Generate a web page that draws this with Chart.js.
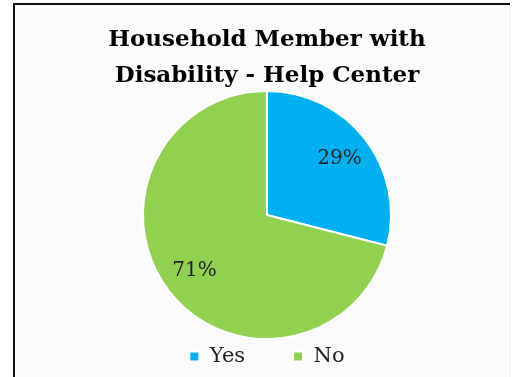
<!DOCTYPE html>
<html>
<head>
<meta charset="utf-8">
<script src="https://cdn.jsdelivr.net/npm/chart.js@4/dist/chart.umd.min.js"></script>
<style>
  html, body { margin: 0; padding: 0; background: #ffffff; }
  body { width: 512px; height: 377px; position: relative; overflow: hidden; }
  #frame {
    position: absolute; left: 13px; top: 3px; width: 495px; height: 400px;
    border-left: 2px solid #111; border-top: 2px solid #111;
    box-shadow: inset -1px 0 0 #ececec;
    background: #fbfbfb;
  }
  #wrap { position: absolute; left: 0; top: 0; width: 512px; height: 377px; }
</style>
</head>
<body>
<div id="frame"></div>
<div id="wrap"><canvas id="chart" width="512" height="377"></canvas></div>
<script>
// Survey result: does the household include a member with a disability?
const categories = ['Yes', 'No'];
const percentages = [29, 71];
const sliceColors = ['#00B0F0', '#92D050'];
const titleLines = ['Household Member with', 'Disability - Help Center'];

const serif = "'DejaVu Serif', serif";

// Writes each slice's percentage inside the slice, along its middle angle.
const sliceLabels = {
  id: 'sliceLabels',
  afterDatasetsDraw(chart) {
    const ctx = chart.ctx;
    const meta = chart.getDatasetMeta(0);
    ctx.save();
    ctx.font = '20px ' + serif;
    ctx.fillStyle = '#222222';
    ctx.textAlign = 'center';
    ctx.textBaseline = 'middle';
    meta.data.forEach((arc, i) => {
      const p = arc.getProps(['x', 'y', 'startAngle', 'endAngle', 'outerRadius'], true);
      const mid = (p.startAngle + p.endAngle) / 2;
      const r = p.outerRadius * 0.74;
      ctx.fillText(percentages[i] + '%', p.x + Math.cos(mid) * r, p.y + Math.sin(mid) * r);
    });
    ctx.restore();
  }
};

new Chart(document.getElementById('chart'), {
  type: 'pie',
  data: {
    labels: categories,
    datasets: [{
      data: percentages,
      backgroundColor: sliceColors,
      borderColor: '#ffffff',
      borderWidth: 2,
      radius: 124,
      clip: false
    }]
  },
  options: {
    responsive: false,
    animation: false,
    layout: { padding: { left: 22, right: 0, top: 0, bottom: 0 } },
    plugins: {
      title: {
        display: true,
        text: titleLines,
        color: '#000000',
        font: { family: serif, size: 23, weight: 'bold', lineHeight: 1.565 },
        padding: { top: 22, bottom: 38 }
      },
      legend: {
        position: 'bottom',
        labels: {
          boxWidth: 10,
          boxHeight: 10,
          padding: 48,
          color: '#222222',
          font: { family: serif, size: 21 }
        }
      },
      tooltip: { enabled: false }
    }
  },
  plugins: [sliceLabels]
});
</script>
</body>
</html>
